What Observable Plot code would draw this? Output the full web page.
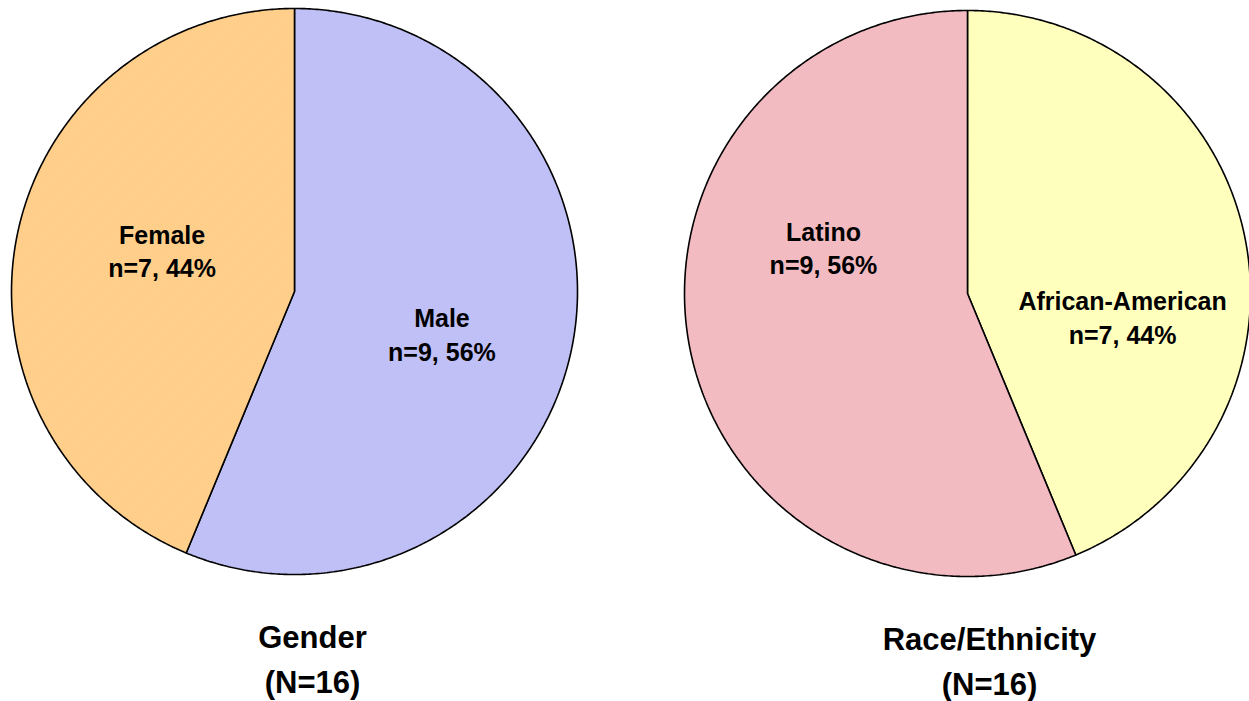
<!DOCTYPE html>
<html>
<head>
<meta charset="utf-8">
<script src="https://cdn.jsdelivr.net/npm/d3@7"></script>
<script src="https://cdn.jsdelivr.net/npm/@observablehq/plot@0.6"></script>
<style>
  body { margin: 0; background: #fff; }
  svg { display: block; }
</style>
</head>
<body>
<div id="chart"></div>
<script>
// Participant profile: gender and race/ethnicity (N = 16)
const chartTitles = ["Gender", "Race/Ethnicity"];
const genderCategories = ["Male", "Female"];
const genderCounts = [9, 7];
const raceCategories = ["African-American", "Latino"];
const raceCounts = [7, 9];

// ---- layout (pixels) ----
const W = 1249, H = 701;
const FONT = "'Liberation Sans', Arial, Helvetica, sans-serif";
const pies = [
  {title: chartTitles[0], categories: genderCategories, counts: genderCounts,
   cx: 294, cy: 291, r: 283, titleX: 312, titleY: 656},
  {title: chartTitles[1], categories: raceCategories, counts: raceCounts,
   cx: 967, cy: 293, r: 283, titleX: 989, titleY: 658}
];

// label anchor offsets, in units of the pie radius
const labelOffset = {
  "Male": [0.521, 0.148],
  "Female": [-0.468, -0.148],
  "Latino": [-0.509, -0.166],
  "African-American": [0.548, 0.081]
};

// hatched fills: [base, stripe]
const sliceColors = {
  "Male": ["#b8b8f4", "#cfcffb"],
  "Female": ["#ffc87c", "#ffdba6"],
  "Latino": ["#f0b0b8", "#f9cfd3"],
  "African-American": ["#ffffb0", "#ffffd8"]
};
const patternId = (name) => "pat-" + name.replace(/[^A-Za-z]/g, "");

// ---- build slice outlines and labels from the counts ----
const slicePoints = [];
const sliceLabels = [];
const titles = [];
for (const pie of pies) {
  const total = d3.sum(pie.counts);
  let start = 0;
  pie.categories.forEach((cat, i) => {
    const a0 = start;
    const a1 = start + (pie.counts[i] / total) * 2 * Math.PI;
    start = a1;
    const key = pie.title + "|" + cat;
    const fill = `url(#${patternId(cat)})`;
    slicePoints.push({key, fill, x: pie.cx, y: pie.cy});
    const steps = Math.max(2, Math.ceil((a1 - a0) / (Math.PI / 360)));
    for (let s = 0; s <= steps; ++s) {
      const a = a0 + (a1 - a0) * s / steps;
      slicePoints.push({key, fill, x: pie.cx + pie.r * Math.sin(a), y: pie.cy - pie.r * Math.cos(a)});
    }
    slicePoints.push({key, fill, x: pie.cx, y: pie.cy});
    const pct = Math.round(pie.counts[i] / total * 100);
    const [ox, oy] = labelOffset[cat];
    sliceLabels.push({
      x: pie.cx + ox * pie.r,
      y: pie.cy + oy * pie.r,
      text: `${cat}\nn=${pie.counts[i]}, ${pct}%`
    });
  });
  titles.push({x: pie.titleX, y: pie.titleY, text: `${pie.title}\n(N=${total})`});
}

const svg = Plot.plot({
  width: W,
  height: H,
  margin: 0,
  style: {fontFamily: FONT, background: "#fff"},
  x: {domain: [0, W], range: [0, W], axis: null},
  y: {domain: [0, H], range: [0, H], axis: null},
  color: {type: "identity"},
  marks: [
    Plot.line(slicePoints, {
      x: "x", y: "y", z: "key", fill: "fill",
      stroke: "#000", strokeWidth: 1.6, curve: "linear",
      strokeLinejoin: "miter"
    }),
    Plot.text(sliceLabels, {
      x: "x", y: "y", text: "text",
      fontSize: 25, fontWeight: "bold", fontFamily: FONT,
      lineHeight: 1.34, fill: "#000"
    }),
    Plot.text(titles, {
      x: "x", y: "y", text: "text",
      fontSize: 31, fontWeight: "bold", fontFamily: FONT,
      lineHeight: 1.45, fill: "#000"
    })
  ]
});

// hatch patterns used by the slice fills
const defs = d3.select(svg).insert("defs", ":first-child");
for (const [name, [base, stripe]] of Object.entries(sliceColors)) {
  const p = defs.append("pattern")
    .attr("id", patternId(name))
    .attr("patternUnits", "userSpaceOnUse")
    .attr("width", 3).attr("height", 3);
  p.append("rect").attr("width", 3).attr("height", 3).attr("fill", base);
  p.append("path")
    .attr("d", "M0,3L3,0M-1,1L1,-1M2,4L4,2")
    .attr("stroke", stripe).attr("stroke-width", 1);
}

document.getElementById("chart").appendChild(svg);
</script>
</body>
</html>
